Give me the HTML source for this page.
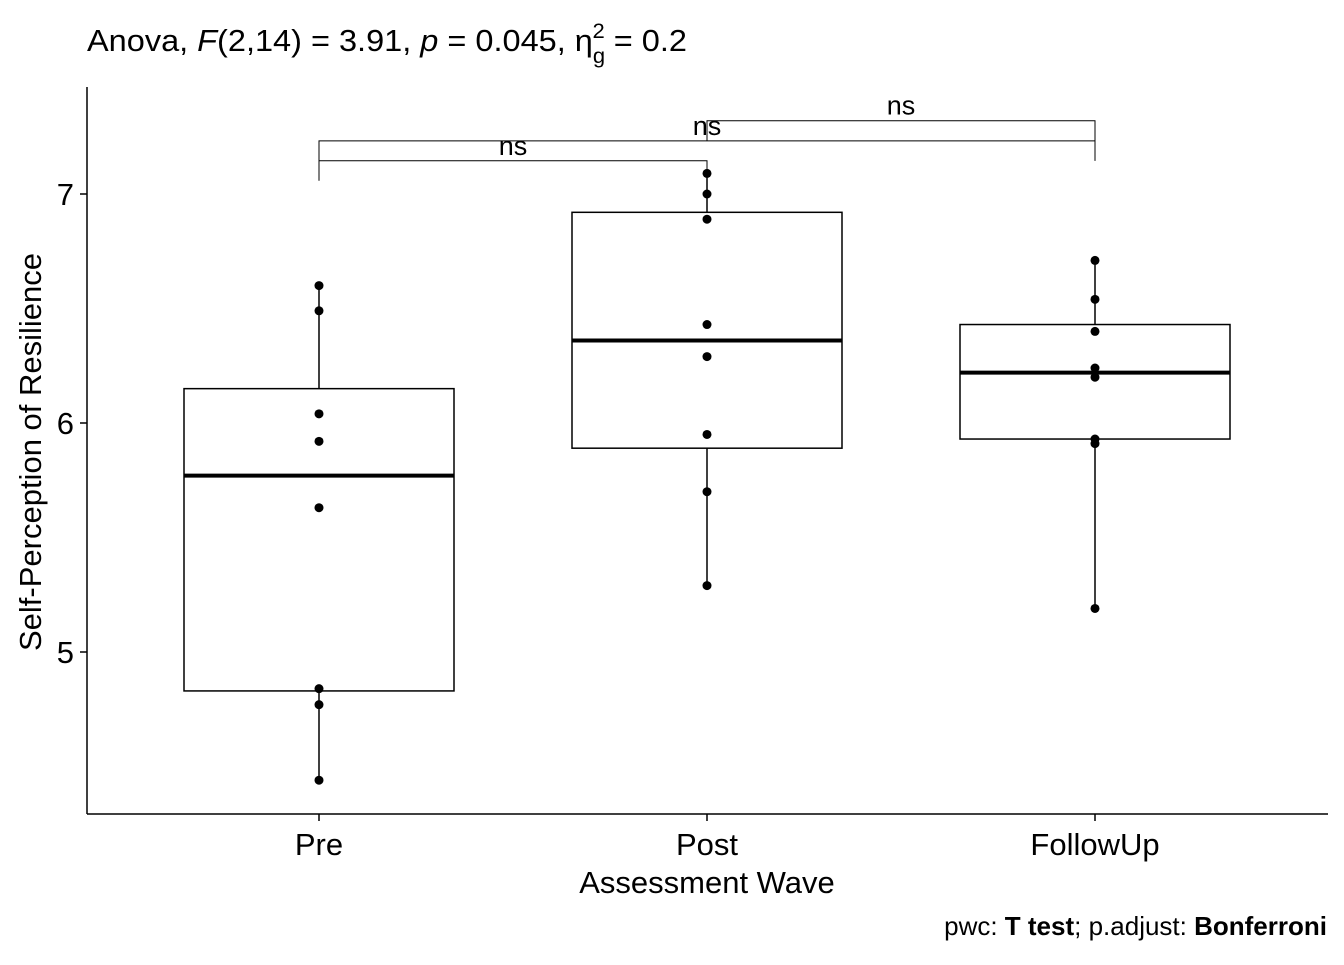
<!DOCTYPE html>
<html><head><meta charset="utf-8"><style>
body{margin:0;background:#fff}
svg text{font-family:"Liberation Sans",Arial,sans-serif;fill:#000}
</style></head><body>
<svg width="1344" height="960" xmlns="http://www.w3.org/2000/svg">
<text x="87" y="51" font-size="31" textLength="600" lengthAdjust="spacingAndGlyphs">Anova, <tspan font-style="italic">F</tspan>(2,14) = 3.91, <tspan font-style="italic">p</tspan> = 0.045, η<tspan font-size="21" dy="12">g</tspan><tspan font-size="21" dx="-12" dy="-25">2</tspan><tspan dy="13"> = 0.2</tspan></text>
<g id="plot"></g>
<text x="707" y="893" font-size="31" text-anchor="middle">Assessment Wave</text>
<text transform="translate(41,452) rotate(-90)" font-size="31" text-anchor="middle">Self-Perception of Resilience</text>
<text x="1327" y="935" font-size="26" text-anchor="end">pwc: <tspan font-weight="bold">T test</tspan>; p.adjust: <tspan font-weight="bold">Bonferroni</tspan></text>
</svg>
<script>
const categories=["Pre","Post","FollowUp"];
const points=[[6.60,6.49,6.04,5.92,5.63,4.84,4.77,4.44],[7.09,7.00,6.89,6.43,6.29,5.95,5.70,5.29],[6.71,6.54,6.40,6.24,6.20,5.93,5.91,5.19]];
const q1=[4.83,5.89,5.93];
const medians=[5.77,6.36,6.22];
const q3=[6.15,6.92,6.43];
const whiskLo=[4.44,5.29,5.19];
const whiskHi=[6.60,7.09,6.71];
const yTicks=[5,6,7];
const comparisons=[[0,1,7.145,"ns"],[0,2,7.232,"ns"],[1,2,7.32,"ns"]];
const NS="http://www.w3.org/2000/svg";
const g=document.getElementById('plot');
const y=v=>423-(v-6)*229;
const x=i=>319+i*388;
function mk(t,a,p){const e=document.createElementNS(NS,t);for(const k in a)e.setAttribute(k,a[k]);(p||g).appendChild(e);return e;}
let e;
e=mk('line',{x1:87,y1:87,x2:87,y2:814,stroke:'#000','stroke-width':1.5});


e=mk('line',{x1:87,y1:814,x2:1328,y2:814,stroke:'#000','stroke-width':1.5});


yTicks.forEach(t=>{
 e=mk('line',{x1:80,x2:87,y1:y(t),y2:y(t),stroke:'#000','stroke-width':1.5});
 
 
 e=mk('text',{x:74,y:y(t)+11,'font-size':31,'text-anchor':'end'});e.textContent=t;
 
 
});
categories.forEach((c,i)=>{
 const cx=x(i);
 e=mk('line',{x1:cx,x2:cx,y1:814,y2:821,stroke:'#000','stroke-width':1.5});
 
 
 e=mk('text',{x:cx,y:855,'font-size':31,'text-anchor':'middle'});e.textContent=c;
 
 
 e=mk('line',{x1:cx,x2:cx,y1:y(whiskHi[i]),y2:y(q3[i]),stroke:'#000','stroke-width':1.5});
 
 
 e=mk('line',{x1:cx,x2:cx,y1:y(q1[i]),y2:y(whiskLo[i]),stroke:'#000','stroke-width':1.5});
 
 
 e=mk('rect',{x:cx-135,y:y(q3[i]),width:270,height:y(q1[i])-y(q3[i]),fill:'#fff',stroke:'#000','stroke-width':1.5});
 
 
 e=mk('line',{x1:cx-135,x2:cx+135,y1:y(medians[i]),y2:y(medians[i]),stroke:'#000','stroke-width':4});
 
 
 points[i].forEach(v=>{
  e=mk('circle',{cx:cx,cy:y(v),r:4.5,fill:'#000'});
  
  
 });
});
comparisons.forEach(([a,b,v,l])=>{
 const yy=y(v);
 e=mk('path',{d:`M${x(a)},${yy+20}V${yy}H${x(b)}V${yy+20}`,fill:'none',stroke:'#000','stroke-width':1});
 
 
 e=mk('text',{x:(x(a)+x(b))/2,y:yy-6,'font-size':27,'text-anchor':'middle'});e.textContent=l;
 
 
});
</script>
</body></html>
